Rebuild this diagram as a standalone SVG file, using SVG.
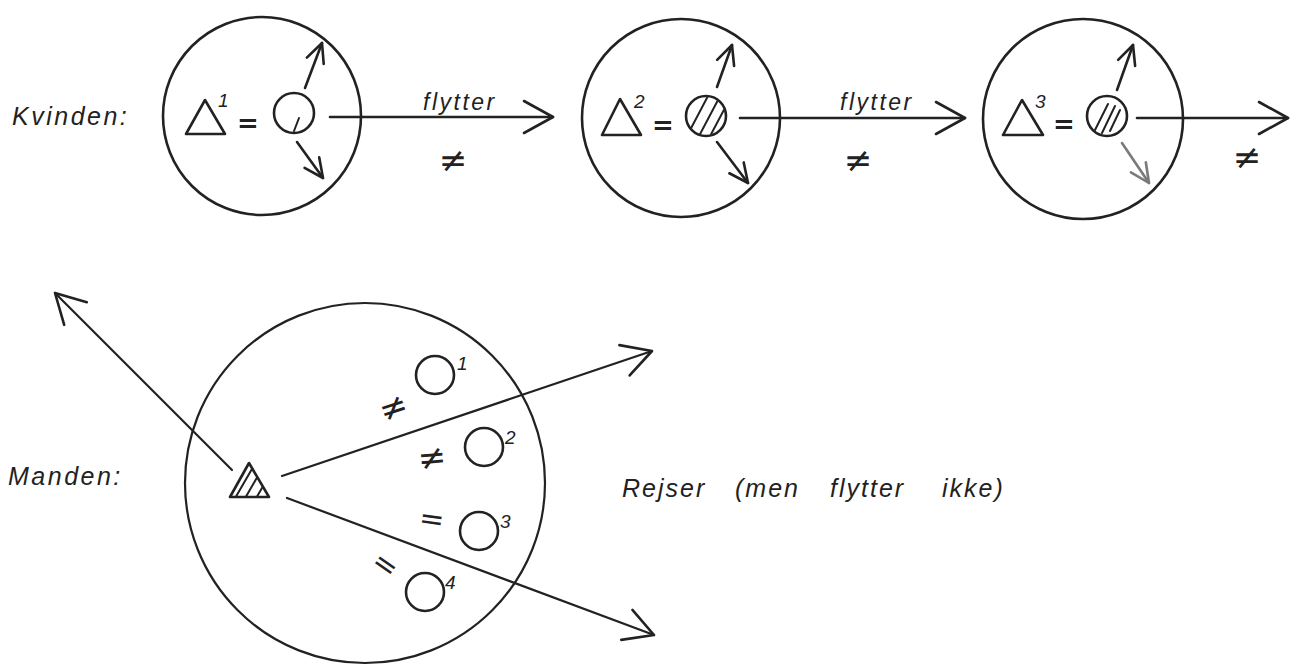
<svg xmlns="http://www.w3.org/2000/svg" width="1298" height="666" viewBox="0 0 1298 666">
<style>
.ln{fill:none;stroke:#222;stroke-width:2.6;stroke-linecap:round;stroke-linejoin:round}
.thin{fill:none;stroke:#222;stroke-width:2.2;stroke-linecap:round;stroke-linejoin:round}
.hat{fill:none;stroke:#222;stroke-width:2;stroke-linecap:round}
.lbl{font-family:"Liberation Sans",Arial,sans-serif;font-style:italic;fill:#222}
.sym{font-family:"DejaVu Sans","Liberation Sans",sans-serif;fill:#222}
.sup{font-family:"Liberation Sans",Arial,sans-serif;font-style:italic;font-size:19px;fill:#222}
</style>
<defs>
<marker id="big" markerUnits="userSpaceOnUse" viewBox="-34 -20 36 40" refX="0" refY="0" markerWidth="36" markerHeight="40" orient="auto" overflow="visible">
<path d="M-29,-16 L0,0 L-29,16" fill="none" stroke="#222" stroke-width="2.6" stroke-linecap="round" stroke-linejoin="round"/>
</marker>
<marker id="sm" markerUnits="userSpaceOnUse" viewBox="-22 -12 24 24" refX="0" refY="0" markerWidth="24" markerHeight="24" orient="auto" overflow="visible">
<path d="M-19,-9 L0,0 L-19,9" fill="none" stroke="#222" stroke-width="2.6" stroke-linecap="round" stroke-linejoin="round"/>
</marker>
<clipPath id="c2"><circle cx="706" cy="116" r="19"/></clipPath>
<clipPath id="c3"><circle cx="1107" cy="116" r="19"/></clipPath>
<clipPath id="tm"><polygon points="230,497 269,497 249,463"/></clipPath>
</defs>

<!-- labels -->
<text class="lbl" x="12" y="125" font-size="25" letter-spacing="2.5">Kvinden:</text>
<text class="lbl" x="8" y="485" font-size="25" letter-spacing="2.5">Manden:</text>
<text class="lbl" y="497" font-size="25" letter-spacing="2"><tspan x="622">Rejser</tspan><tspan x="735">(men</tspan><tspan x="830">flytter</tspan><tspan x="942">ikke)</tspan></text>

<!-- Kvinden 1 -->
<g id="k1">
<circle class="ln" cx="262" cy="116" r="99"/>
<polygon class="ln" points="186,134 225,134 205,100"/>
<text class="sup" x="218" y="107">1</text>
<text class="sym" x="248" y="132" font-size="26" text-anchor="middle" font-weight="bold">=</text>
<circle class="ln" cx="294" cy="113" r="20"/>
<line class="hat" x1="299" y1="118" x2="294" y2="131"/>
<line class="ln" x1="305" y1="88" x2="322" y2="43" marker-end="url(#sm)"/>
<line class="ln" x1="297" y1="142" x2="323" y2="178" marker-end="url(#sm)"/>
</g>

<!-- Kvinden 2 -->
<g id="k2">
<circle class="ln" cx="681" cy="118" r="99"/>
<polygon class="ln" points="602,135 641,135 620,99"/>
<text class="sup" x="634" y="108">2</text>
<text class="sym" x="663" y="134" font-size="26" text-anchor="middle" font-weight="bold">=</text>
<g clip-path="url(#c2)">
<line class="hat" x1="688" y1="134" x2="708" y2="96"/>
<line class="hat" x1="698" y1="138" x2="718" y2="100"/>
<line class="hat" x1="708" y1="140" x2="726" y2="106"/>
</g>
<circle class="ln" cx="706" cy="116" r="20"/>
<line class="ln" x1="717" y1="87" x2="732" y2="45" marker-end="url(#sm)"/>
<line class="ln" x1="717" y1="142" x2="748" y2="183" marker-end="url(#sm)"/>
</g>

<!-- Kvinden 3 -->
<g id="k3">
<circle class="ln" cx="1083" cy="119" r="100"/>
<polygon class="ln" points="1003,135 1043,135 1022,100"/>
<text class="sup" x="1035" y="108">3</text>
<text class="sym" x="1064" y="133" font-size="26" text-anchor="middle" font-weight="bold">=</text>
<g clip-path="url(#c3)">
<line class="hat" x1="1095" y1="130" x2="1108" y2="104"/>
<line class="hat" x1="1102" y1="133" x2="1115" y2="106"/>
<line class="hat" x1="1110" y1="131" x2="1120" y2="110"/>
</g>
<circle class="ln" cx="1107" cy="116" r="20"/>
<line class="ln" x1="1117" y1="90" x2="1133" y2="45" marker-end="url(#sm)"/>
<line class="ln" x1="1122" y1="143" x2="1149" y2="183" marker-end="url(#sm)" opacity="0.6"/>
</g>

<!-- Manden -->
<g id="manden">
<circle class="thin" cx="365" cy="483" r="180"/>
<g clip-path="url(#tm)">
<line class="hat" x1="234" y1="500" x2="256" y2="462"/>
<line class="hat" x1="244" y1="500" x2="266" y2="462"/>
<line class="hat" x1="255" y1="500" x2="276" y2="464"/>
</g>
<polygon class="ln" points="230,497 269,497 249,463"/>
</g>
<g id="o1"><circle class="ln" cx="435" cy="375" r="19"/><text class="sup" x="457" y="370">1</text></g>
<g id="o2"><circle class="ln" cx="484" cy="447" r="19"/><text class="sup" x="505" y="444">2</text></g>
<g id="o3"><circle class="ln" cx="479" cy="531" r="19"/><text class="sup" x="500" y="528">3</text></g>
<g id="o4"><circle class="ln" cx="425" cy="592" r="19"/><text class="sup" x="445" y="589">4</text></g>

<!-- relation symbols -->
<g id="symbols">
<text class="sym" x="453" y="172" font-size="34" text-anchor="middle">≠</text>
<text class="sym" x="858" y="172" font-size="34" text-anchor="middle">≠</text>
<text class="sym" x="1247" y="169" font-size="34" text-anchor="middle">≠</text>
<text class="sym" x="0" y="12" font-size="34" text-anchor="middle" transform="translate(393,407) rotate(-18)">≠</text>
<text class="sym" x="0" y="12" font-size="34" text-anchor="middle" transform="translate(432,457) rotate(-5)">≠</text>
<text class="sym" x="0" y="11" font-size="30" text-anchor="middle" transform="translate(432,518) rotate(8)">=</text>
<text class="sym" x="0" y="11" font-size="30" text-anchor="middle" transform="translate(386,564) rotate(35)">=</text>
</g>

<!-- connectors -->
<g id="connectors">
<line class="ln" x1="330" y1="117" x2="553" y2="117" marker-end="url(#big)"/>
<text class="lbl" x="423" y="110" font-size="23" letter-spacing="2.5">flytter</text>
<line class="ln" x1="740" y1="118" x2="965" y2="118" marker-end="url(#big)"/>
<text class="lbl" x="840" y="110" font-size="23" letter-spacing="2.5">flytter</text>
<line class="ln" x1="1137" y1="118" x2="1288" y2="118" marker-end="url(#big)"/>
<line class="thin" x1="232" y1="470" x2="55" y2="293" marker-end="url(#big)"/>
<line class="thin" x1="282" y1="476" x2="652" y2="351" marker-end="url(#big)"/>
<line class="thin" x1="287" y1="498" x2="654" y2="635" marker-end="url(#big)"/>
</g>
</svg>
